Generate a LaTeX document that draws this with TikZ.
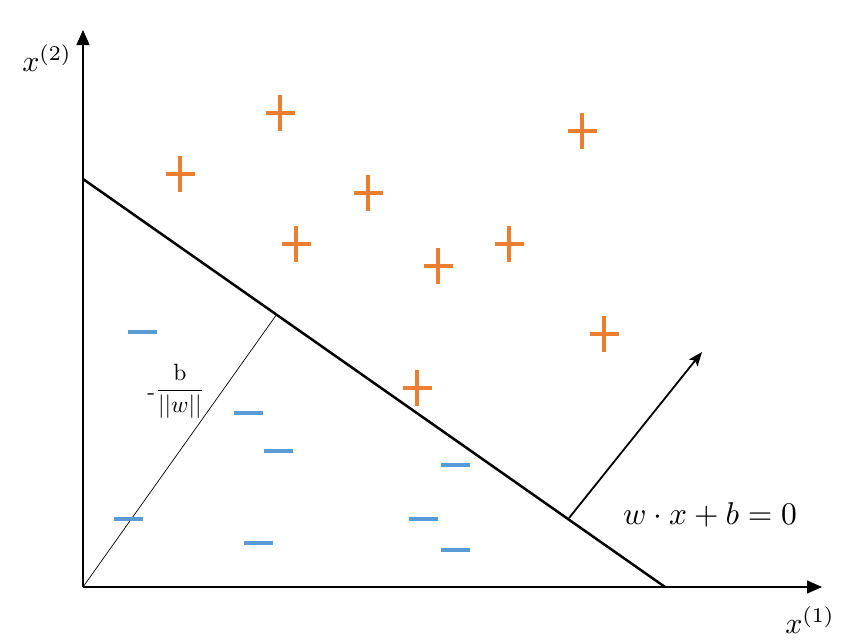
\documentclass[tikz,border=0pt]{standalone}
\usetikzlibrary{arrows.meta}
\definecolor{posc}{HTML}{ED7D31}
\definecolor{negc}{HTML}{5B9BD5}
\tikzset{
  axis/.style={line width=1.4pt, -{Triangle[length=15pt,width=13pt]}},
  hyper/.style={line width=2.5pt},
  perp/.style={line width=0.7pt},
  normal/.style={line width=1.8pt, -{Stealth[length=14pt,width=11pt,inset=3pt]}},
  lbl/.style={inner sep=0pt},
  plusmark/.pic={\draw[posc, line width=3.6pt] (-14.5,0)--(14.5,0) (0,-18)--(0,18);},
  minusmark/.pic={\draw[negc, line width=3.6pt] (-14.5,0)--(14.5,0);}
}
\begin{document}
\begin{tikzpicture}[x=1pt,y=-1pt]
\useasboundingbox (0,0) rectangle (852,643);
\coordinate (O) at (83,587);
\coordinate (Ytip) at (83,30);
\coordinate (Xtip) at (822,587);
\coordinate (A) at (83,179);
\coordinate (B) at (665,587);
\coordinate (F) at (277,314);
\coordinate (N1) at (569,518);
\coordinate (N2) at (702,352);
\draw[axis] (O) -- (Ytip);
\draw[axis] (O) -- (Xtip);
\draw[hyper] (A) -- (B);
\draw[perp] (O) -- (F);
\draw[normal] (N1) -- (N2);
\node[lbl, scale=3.0] (ylab) at (47,58) {$x^{(2)}$};
\node[lbl, scale=3.0] (xlab) at (810,620) {$x^{(1)}$};
\node[lbl, scale=3.15] (hyp) at (710,515) {$w\cdot x+b=0$};
\node[lbl, scale=2.35] (dist) at (176,391) {\raisebox{-0.35ex}{-}$\displaystyle\frac{\mathrm{b}}{||w||}$};
\foreach \p in {(280,113),(180,174),(582,131),(368,193),(296,244),(509,244),(438,266),(604,334),(417,388)}
  \pic at \p {plusmark};
\foreach \p in {(142,332),(248,413),(278,451),(455,465),(128,519),(423,519),(258,543),(455,550)}
  \pic at \p {minusmark};
\end{tikzpicture}
\end{document}
